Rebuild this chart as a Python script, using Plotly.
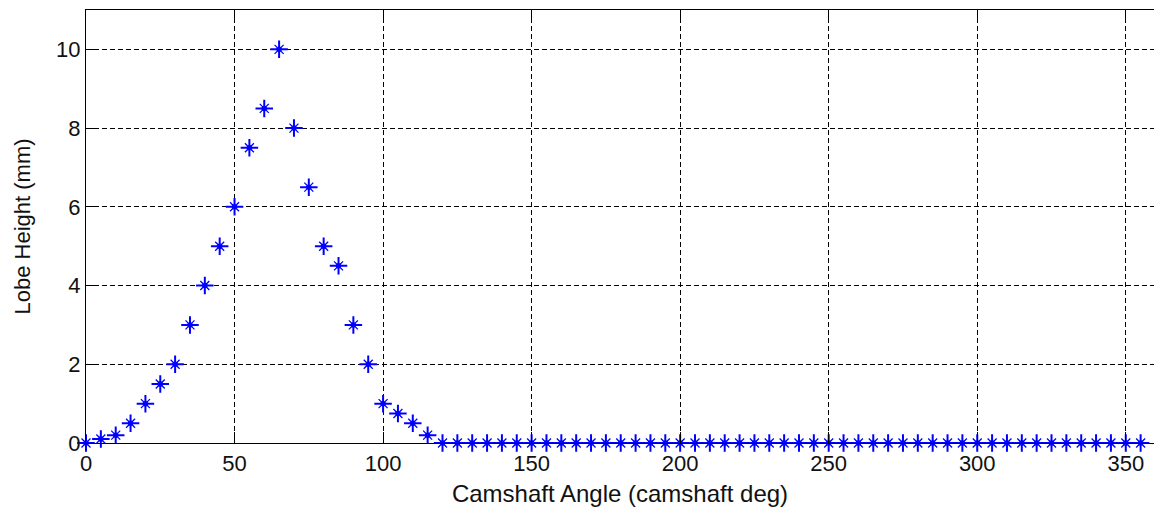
import plotly.graph_objects as go

# Cam lobe lift profile sampled every 5 degrees of camshaft rotation
angle_deg = list(range(0, 360, 5))
lift_rise = [0, 0.1, 0.2, 0.5, 1, 1.5, 2, 3, 4, 5, 6, 7.5, 8.5, 10]
lift_fall = [8, 6.5, 5, 4.5, 3, 2, 1, 0.75, 0.5, 0.2]
lift_base = [0] * (len(angle_deg) - len(lift_rise) - len(lift_fall))
lobe_height_mm = lift_rise + lift_fall + lift_base

x_ticks = [0, 50, 100, 150, 200, 250, 300, 350]
y_ticks = [0, 2, 4, 6, 8, 10]

BLUE = "#0000ff"
FONT = "Liberation Sans, Arial, sans-serif"

fig = go.Figure()
# '*' marker built from a plus, a thin x and a filled centre dot
fig.add_trace(go.Scatter(
    x=angle_deg, y=lobe_height_mm, mode="markers",
    marker=dict(symbol="cross-thin-open", size=12.5, color=BLUE,
                line=dict(color=BLUE, width=2)),
    hoverinfo="skip", cliponaxis=False))
fig.add_trace(go.Scatter(
    x=angle_deg, y=lobe_height_mm, mode="markers",
    marker=dict(symbol="x-thin-open", size=9, color=BLUE,
                line=dict(color=BLUE, width=1.3)),
    hoverinfo="skip", cliponaxis=False))
fig.add_trace(go.Scatter(
    x=angle_deg, y=lobe_height_mm, mode="markers",
    marker=dict(symbol="circle", size=5.5, color=BLUE, line=dict(width=0)),
    hoverinfo="skip", cliponaxis=False))

axis_common = dict(
    showline=True, linecolor="black", linewidth=1.3,
    ticks="inside", ticklen=11, tickcolor="black", tickwidth=1.3,
    showgrid=True, gridcolor="#000000", gridwidth=1.3, griddash="5px,3px",
    zeroline=False,
    tickfont=dict(family=FONT, size=22, color="#111111"),
)

fig.update_xaxes(
    **axis_common,
    range=[0, 359.5], tickmode="array", tickvals=x_ticks,
    mirror="ticks",
    title=dict(text="Camshaft Angle (camshaft deg)", standoff=10,
               font=dict(family=FONT, size=24, color="#111111")),
)
fig.update_yaxes(
    **axis_common,
    range=[0, 11], tickmode="array", tickvals=y_ticks,
    mirror=False,
    title=dict(text="Lobe Height (mm)", standoff=19,
               font=dict(family=FONT, size=22, color="#111111")),
)

fig.update_layout(
    width=1154, height=512,
    margin=dict(l=86, r=0, t=10, b=69),
    paper_bgcolor="white", plot_bgcolor="white",
    showlegend=False, hovermode=False,
)

fig.write_html("out.html")
